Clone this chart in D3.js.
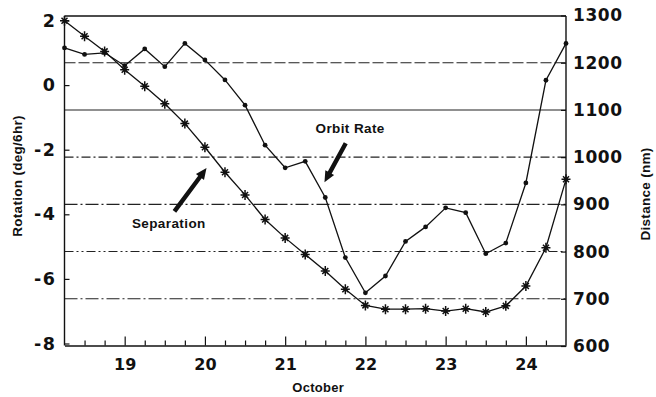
<!DOCTYPE html>
<html>
<head>
<meta charset="utf-8">
<script src="https://cdn.jsdelivr.net/npm/d3@7"></script>
<style>
  html, body { margin: 0; padding: 0; background: #fff; }
  svg { display: block; }
  .tick text { font-family: "DejaVu Sans", sans-serif; font-weight: bold; fill: #111; }
  .title { font-family: "Liberation Sans", Arial, sans-serif; font-weight: bold; fill: #111; }
</style>
</head>
<body>
<svg id="chart" width="656" height="397"></svg>
<script>
// Time of each sample (October day, every 6 hours)
const days = [18.25, 18.5, 18.75, 19, 19.25, 19.5, 19.75, 20, 20.25, 20.5, 20.75, 21, 21.25,
              21.5, 21.75, 22, 22.25, 22.5, 22.75, 23, 23.25, 23.5, 23.75, 24, 24.25, 24.5];
// Orbit rate, deg per 6 hr (left axis)
const orbitRate = [1.15, 0.95, 1.0, 0.6, 1.12, 0.57, 1.29, 0.78, 0.16, -0.62, -1.86, -2.56, -2.36,
                   -3.48, -5.34, -6.43, -5.91, -4.84, -4.39, -3.80, -3.95, -5.22, -4.89, -3.03, 0.15, 1.29];
// Separation distance, nm (right axis)
const separation = [1289, 1256, 1224, 1185, 1150, 1113, 1071, 1021, 968, 920, 868, 829, 794,
                    759, 720, 686, 678, 678, 679, 674, 679, 672, 685, 727, 808, 953];

const leftTicks = [-8, -6, -4, -2, 0, 2];
const rightTicks = [600, 700, 800, 900, 1000, 1100, 1200, 1300];
const dayTicks = [19, 20, 21, 22, 23, 24];
const quarterTicks = [18.5, 18.75, 19.25, 19.5, 19.75, 20.25, 20.5, 20.75, 21.25, 21.5, 21.75,
                      22.25, 22.5, 22.75, 23.25, 23.5, 23.75, 24.25];
// Reference lines at distance levels, each with its own dash pattern
const gridLevels = [1200, 1100, 1000, 900, 800, 700];
const gridDash = ["11,3", null, "9,3,2,3", "13,3,2,3", "9,3,2,3,2,3", "13,3,2,3"];

// Callout labels with arrows, in data units (day, rotation)
const callouts = [
  { text: "Orbit Rate", tx: 21.81, ty: -1.33, from: [21.755, -1.80], to: [21.49, -3.01] },
  { text: "Separation", tx: 19.55, ty: -4.28, from: [19.62, -3.91], to: [20.02, -2.57] }
];

const svg = d3.select("#chart");
const x = d3.scaleLinear().domain([18.25, 24.5]).range([64.5, 566]);
const yL = d3.scaleLinear().domain([-8, 2]).range([343.5, 20.5]);
const yR = d3.scaleLinear().domain([600, 1300]).range([346, 15.5]);

const plotLeft = x.range()[0], plotRight = x.range()[1];
const plotTop = 16, plotBottom = 345.5;

// Grid lines
svg.append("g").selectAll("line").data(gridLevels).join("line")
  .attr("x1", plotLeft).attr("x2", plotRight)
  .attr("y1", d => yR(d)).attr("y2", d => yR(d))
  .attr("stroke", "#222").attr("stroke-width", 1.1)
  .attr("stroke-dasharray", (d, i) => gridDash[i]);

// Top frame line
svg.append("line").attr("x1", plotLeft).attr("x2", plotRight).attr("y1", plotTop).attr("y2", plotTop)
  .attr("stroke", "#111").attr("stroke-width", 1.3);

// Bottom axis: quarter-day minor ticks and labelled day ticks, pointing inward
const xMinor = d3.axisBottom(x).tickValues(quarterTicks).tickSize(-5).tickFormat("");
const xMajor = d3.axisBottom(x).tickValues(dayTicks).tickSizeInner(-9).tickSizeOuter(0).tickPadding(13)
  .tickFormat(d3.format("d"));
svg.append("g").attr("transform", `translate(0,${plotBottom})`).call(xMinor)
  .call(g => g.select(".domain").remove());
const gx = svg.append("g").attr("transform", `translate(0,${plotBottom})`).call(xMajor);
gx.selectAll("text").attr("font-size", 16);

// Left axis
const gl = svg.append("g").attr("transform", `translate(${plotLeft},0)`)
  .call(d3.axisLeft(yL).tickValues(leftTicks).tickSizeInner(-5).tickSizeOuter(0).tickPadding(8)
    .tickFormat(d => d < 0 ? "-" + Math.abs(d) : String(d)));
gl.select(".domain").attr("d", `M0,${plotTop}V${plotBottom}`);
gl.selectAll("text").attr("font-size", 17.5).attr("letter-spacing", 1.5);

// Right axis
const gr = svg.append("g").attr("transform", `translate(${plotRight},0)`)
  .call(d3.axisRight(yR).tickValues(rightTicks).tickSizeInner(-5).tickSizeOuter(0).tickPadding(7)
    .tickFormat(d3.format("d")));
gr.select(".domain").attr("d", `M0,${plotTop}V${plotBottom}`);
gr.selectAll("text").attr("font-size", 17).attr("letter-spacing", 0.6);

svg.selectAll(".domain").attr("stroke", "#111").attr("stroke-width", 1.4);
svg.selectAll(".tick line").attr("stroke", "#111").attr("stroke-width", 1.2);

// Axis titles
svg.append("text").attr("class", "title")
  .attr("transform", "translate(22,176) rotate(-90)")
  .attr("text-anchor", "middle").attr("font-size", 13.5).attr("letter-spacing", 0.3)
  .text("Rotation (deg/6hr)");
svg.append("text").attr("class", "title")
  .attr("transform", "translate(650,194) rotate(-90)")
  .attr("text-anchor", "middle").attr("font-size", 13.5).attr("letter-spacing", 0.3)
  .text("Distance (nm)");
svg.append("text").attr("class", "title")
  .attr("x", (plotLeft + plotRight) / 2 + 3).attr("y", 392)
  .attr("text-anchor", "middle").attr("font-size", 13).attr("letter-spacing", 0.3)
  .text("October");

// Orbit rate series (dots)
const orbitPts = days.map((d, i) => [x(d), yL(orbitRate[i])]);
svg.append("path").attr("d", d3.line()(orbitPts))
  .attr("fill", "none").attr("stroke", "#111").attr("stroke-width", 1.3);
svg.append("g").selectAll("circle").data(orbitPts).join("circle")
  .attr("cx", d => d[0]).attr("cy", d => d[1]).attr("r", 2.4).attr("fill", "#111");

// Separation series (star markers)
const sepPts = days.map((d, i) => [x(d), yR(separation[i])]);
svg.append("path").attr("d", d3.line()(sepPts))
  .attr("fill", "none").attr("stroke", "#111").attr("stroke-width", 1.3);
const star = "M-4.5,0H4.5M0,-5V5M-3,-3L3,3M-3,3L3,-3";
svg.append("g").selectAll("path").data(sepPts).join("path")
  .attr("transform", d => `translate(${d[0]},${d[1]})`)
  .attr("d", star).attr("stroke", "#111").attr("stroke-width", 1.5).attr("fill", "none");

// Callout labels and thick arrows
callouts.forEach(c => {
  svg.append("text").attr("class", "title")
    .attr("x", x(c.tx)).attr("y", yL(c.ty) + 5)
    .attr("text-anchor", "middle").attr("font-size", 13.5).attr("letter-spacing", 0.4)
    .text(c.text);
  const x0 = x(c.from[0]), y0 = yL(c.from[1]), x1 = x(c.to[0]), y1 = yL(c.to[1]);
  const ang = Math.atan2(y1 - y0, x1 - x0);
  const len = Math.hypot(x1 - x0, y1 - y0);
  const headLen = 11, headW = 5, shaftW = 2.2;
  const g = svg.append("g").attr("transform", `translate(${x0},${y0}) rotate(${ang * 180 / Math.PI})`);
  g.append("path")
    .attr("d", `M0,${-shaftW}L${len - headLen},${-shaftW}L${len - headLen},${-headW}L${len},0` +
               `L${len - headLen},${headW}L${len - headLen},${shaftW}L0,${shaftW}Z`)
    .attr("fill", "#111");
});
</script>
</body>
</html>
